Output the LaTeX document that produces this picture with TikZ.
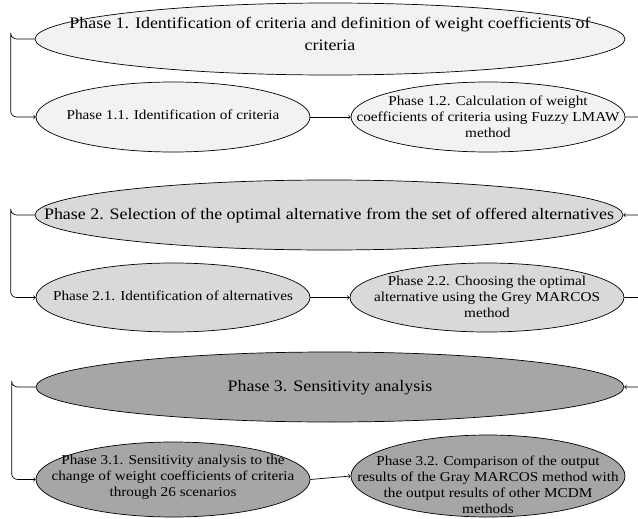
\documentclass[tikz,border=0pt]{standalone}
\usepackage{fontspec}
\setmainfont{Liberation Serif}[FakeStretch=1.12]
\usetikzlibrary{arrows,calc,positioning,shapes.geometric}
\definecolor{phaseA}{HTML}{F2F2F2}
\definecolor{phaseB}{HTML}{D9D9D9}
\definecolor{phaseC}{HTML}{A6A6A6}
\newcommand{\ptext}[2][0pt]{\smash{\makebox[0pt]{\raisebox{\dimexpr#1-0.25em\relax}{\begin{tabular}{@{}c@{}}#2\end{tabular}}}}}
\tikzset{%
	phase/.style    = {draw, ellipse, inner sep=0pt, font=\fontsize{16}{22}\selectfont}, % main phase
	subphase/.style = {draw, ellipse, inner sep=0pt, minimum width=274pt, font=\fontsize{13.6}{16}\selectfont}, % sub phase
	link/.style     = {line width=0.7pt, ->, >=to, rounded corners=6pt},
}
\begin{document}
\begin{tikzpicture}[x=1pt,y=-1pt,line width=0.7pt]
		\useasboundingbox (0,0) rectangle (638,519);
		% Phase 1
		\node [phase, fill=phaseA, minimum width=590pt, minimum height=72pt] (P1) at (330,39) {\ptext[3.5pt]{Phase 1. Identification of criteria and definition of weight coefficients of\\criteria}};
		\node [subphase, fill=phaseA, minimum height=70pt] (P11) at (173,117) {\ptext{Phase 1.1. Identification of criteria}};
		\node [subphase, fill=phaseA, minimum height=70pt] (P12) at (488,117) {\ptext[-2pt]{Phase 1.2. Calculation of weight\\coefficients of criteria using Fuzzy LMAW\\method}};
		% Phase 2
		\node [phase, fill=phaseB, minimum width=588pt, minimum height=70pt] (P2) at (329,215) {\ptext{Phase 2. Selection of the optimal alternative from the set of offered alternatives}};
		\node [subphase, fill=phaseB, minimum height=69pt] (P21) at (173,297.5) {\ptext{Phase 2.1. Identification of alternatives}};
		\node [subphase, fill=phaseB, minimum height=69pt] (P22) at (487,297.5) {\ptext[-1pt]{Phase 2.2. Choosing the optimal\\alternative using the Grey MARCOS\\method}};
		% Phase 3
		\node [phase, fill=phaseC, minimum width=588pt, minimum height=70pt] (P3) at (330,387) {\ptext{Phase 3. Sensitivity analysis}};
		\node [subphase, fill=phaseC, minimum height=75pt] (P31) at (173,479.5) {\ptext[2.5pt]{Phase 3.1. Sensitivity analysis to the\\change of weight coefficients of criteria\\through 26 scenarios}};
		\node [subphase, fill=phaseC, minimum height=82pt] (P32) at (488,476) {\ptext[-10pt]{Phase 3.2. Comparison of the output\\results of the Gray MARCOS method with\\the output results of other MCDM\\methods}};
		% connectors
		\draw [link] (P1.west) -| ++(-24,0) |- (P11.west);
		\draw [link] (P11.east) -- (P12.west);
		\draw [link] (P12.east) -- ++(30,0) |- (P2.east);
		\draw [link] (P2.west) -| ++(-24,0) |- (P21.west);
		\draw [link] (P21.east) -- (P22.west);
		\draw [link] (P22.east) -- ++(30,0) |- (P3.east);
		\draw [link] (P3.west) -| ++(-24,0) |- (P31.west);
		\draw [link] (P31.east) -- (P32.west);
	\end{tikzpicture}
\end{document}
